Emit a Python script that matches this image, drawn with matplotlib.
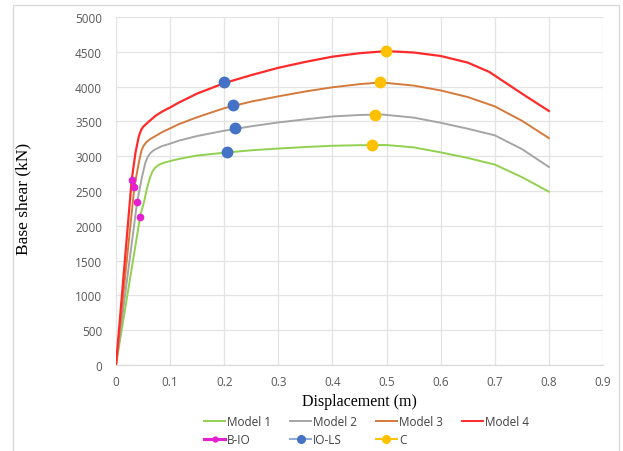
import matplotlib
matplotlib.use("Agg")
import matplotlib.pyplot as plt
from matplotlib.lines import Line2D
from matplotlib.patches import Rectangle

# ---- data ----
m1_x = [0, 0.045, 0.052, 0.057, 0.063, 0.068, 0.073, 0.08, 0.09, 0.1, 0.116, 0.15, 0.2, 0.25, 0.3, 0.35, 0.4, 0.45, 0.5, 0.55, 0.6, 0.65, 0.7, 0.75, 0.8]
m1_y = [0, 2150, 2350, 2530, 2700, 2790, 2840, 2880, 2910, 2930, 2960, 3010, 3050, 3085, 3110, 3132, 3150, 3158, 3160, 3127, 3055, 2975, 2880, 2700, 2490]

m2_x = [0, 0.039, 0.048, 0.054, 0.058, 0.063, 0.068, 0.073, 0.085, 0.1, 0.116, 0.15, 0.2, 0.25, 0.3, 0.35, 0.4, 0.45, 0.49, 0.55, 0.6, 0.65, 0.7, 0.75, 0.8]
m2_y = [0, 2340, 2700, 2900, 2980, 3040, 3075, 3100, 3145, 3180, 3223, 3290, 3366, 3430, 3485, 3530, 3571, 3592, 3600, 3555, 3480, 3395, 3300, 3103, 2845]

m3_x = [0, 0.034, 0.042, 0.047, 0.051, 0.056, 0.062, 0.073, 0.085, 0.1, 0.116, 0.15, 0.2, 0.25, 0.3, 0.35, 0.4, 0.45, 0.49, 0.55, 0.6, 0.65, 0.7, 0.75, 0.8]
m3_y = [0, 2560, 2900, 3080, 3150, 3200, 3240, 3290, 3345, 3400, 3460, 3560, 3690, 3785, 3860, 3930, 3990, 4035, 4060, 4015, 3945, 3850, 3716, 3510, 3260]

m4_x = [0, 0.029, 0.036, 0.042, 0.046, 0.05, 0.056, 0.064, 0.073, 0.085, 0.1, 0.116, 0.15, 0.2, 0.25, 0.3, 0.35, 0.4, 0.45, 0.5, 0.55, 0.6, 0.65, 0.69, 0.75, 0.8]
m4_y = [0, 2660, 3050, 3280, 3370, 3420, 3465, 3520, 3580, 3640, 3700, 3770, 3900, 4050, 4165, 4270, 4355, 4430, 4480, 4510, 4490, 4440, 4345, 4210, 3900, 3650]

bio_x = [0.029, 0.034, 0.039, 0.044]
bio_y = [2658, 2557, 2342, 2126]

iols_x = [0.200, 0.2155, 0.219, 0.2045]
iols_y = [4062, 3736, 3400, 3055]

c_x = [0.499, 0.488, 0.479, 0.4725]
c_y = [4507, 4062, 3596, 3161]

x_ticks = [0, 0.1, 0.2, 0.3, 0.4, 0.5, 0.6, 0.7, 0.8, 0.9]
x_tick_labels = ["0", "0.1", "0.2", "0.3", "0.4", "0.5", "0.6", "0.7", "0.8", "0.9"]
y_ticks = [0, 500, 1000, 1500, 2000, 2500, 3000, 3500, 4000, 4500, 5000]

# ---- style ----
c_m1 = "#92D050"
c_m2 = "#A5A5A5"
c_m3 = "#D47A3C"
c_m4 = "#FF2A2A"
c_bio = "#E41FD0"
c_iols = "#4472C4"
c_c = "#FFC000"

W, H = 623, 452
fig = plt.figure(figsize=(W / 100, H / 100), dpi=100)
ax = fig.add_axes([116 / W, (H - 366) / H, (603 - 116) / W, (366 - 18) / H])

ax.plot(m1_x, m1_y, color=c_m1, lw=1.4, zorder=3)
ax.plot(m2_x, m2_y, color=c_m2, lw=1.4, zorder=3)
ax.plot(m3_x, m3_y, color=c_m3, lw=1.4, zorder=3)
ax.plot(m4_x, m4_y, color=c_m4, lw=1.6, zorder=3)
ax.plot(bio_x, bio_y, ls="none", marker="o", ms=4.5, color=c_bio, zorder=4)
ax.plot(iols_x, iols_y, ls="none", marker="o", ms=7.5, color=c_iols, zorder=4)
ax.plot(c_x, c_y, ls="none", marker="o", ms=7.5, color=c_c, zorder=4)

ax.set_xlim(0, 0.9)
ax.set_ylim(0, 5000)
ax.set_xticks(x_ticks)
ax.set_xticklabels(x_tick_labels)
ax.set_yticks(y_ticks)
ax.grid(True, color="#E3E3E3", lw=0.9, zorder=0)
ax.set_axisbelow(True)
for s in ["left", "right", "top"]:
    ax.spines[s].set_visible(False)
ax.spines["bottom"].set_color("#D9D9D9")
ax.tick_params(length=0, colors="#595959", labelsize=8.5)
for lab in ax.get_xticklabels() + ax.get_yticklabels():
    lab.set_fontfamily("Open Sans")
ax.tick_params(axis="y", pad=10)
ax.tick_params(axis="x", pad=7)

ax.set_xlabel("Displacement (m)", fontfamily="Liberation Serif", fontsize=11.5, color="#000000", labelpad=4)
ax.set_ylabel("Base shear (kN)", fontfamily="Liberation Serif", fontsize=12.5, color="#000000")
ax.yaxis.set_label_coords((31.7 - 116) / 487, (366 - 199) / 348)

handles = [
    Line2D([], [], color=c_m1, lw=1.4),
    Line2D([], [], color=c_bio, lw=2.2, marker="o", ms=3.5),
    Line2D([], [], color=c_m2, lw=1.4),
    Line2D([], [], color="#8EA9DB", lw=1.4, marker="o", ms=5.5, markeredgecolor=c_iols, markerfacecolor=c_iols),
    Line2D([], [], color=c_m3, lw=1.4),
    Line2D([], [], color=c_c, lw=1.4, marker="o", ms=5.5),
    Line2D([], [], color=c_m4, lw=1.4),
]
labels = ["Model 1", "B-IO", "Model 2", "IO-LS", "Model 3", "C", "Model 4"]
leg = fig.legend(handles, labels, ncol=4, loc="upper left", bbox_to_anchor=(198 / W, 1 - 410 / H),
                 frameon=False, prop={"family": "Open Sans", "size": 8.5}, handlelength=1.8,
                 handletextpad=0.15, columnspacing=1.6, labelspacing=0.45, borderpad=0.0)
for t in leg.get_texts():
    t.set_color("#404040")

fig.patches.append(Rectangle((13 / W, -0.05), (619 - 13) / W, 1 - 6 / H + 0.05, transform=fig.transFigure,
                             fill=False, edgecolor="#D9D9D9", lw=1.0))

fig.savefig("out.png", dpi=100)
